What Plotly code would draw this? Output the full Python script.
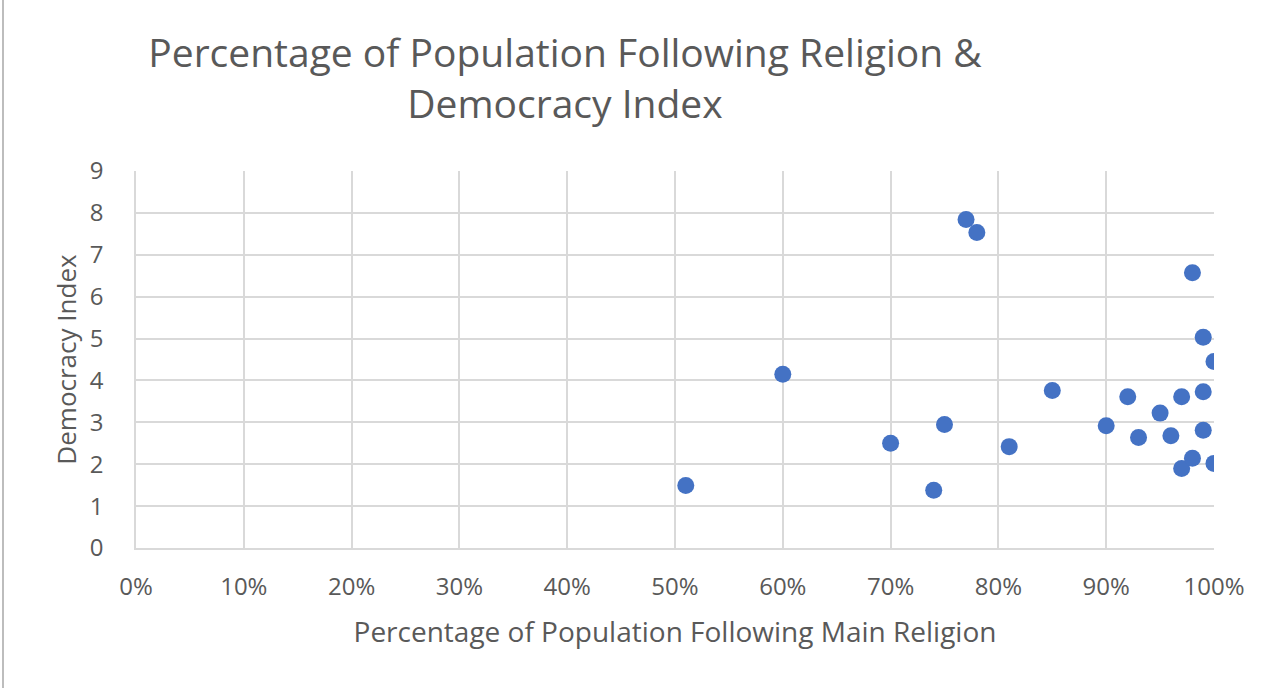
import plotly.graph_objects as go

# Share of population following the main religion (%) and democracy index
religion_pct = [51, 60, 70, 75, 74, 77, 78, 81, 85, 90, 92, 93, 95, 96, 97, 97, 98, 98, 99, 99, 99, 100, 100]
democracy_idx = [1.49, 4.15, 2.50, 2.95, 1.38, 7.84, 7.53, 2.42, 3.76, 2.92, 3.61, 2.64, 3.22, 2.68,
                 3.61, 1.90, 2.14, 6.57, 5.03, 3.73, 2.81, 4.45, 2.02]

x_ticks = list(range(0, 101, 10))
x_tick_text = [f"{v}%" for v in x_ticks]
y_ticks = list(range(0, 10))

FONT = "Open Sans"
TEXT = "#595959"
GRID = "#d9d9d9"

fig = go.Figure(
    go.Scatter(
        x=religion_pct,
        y=democracy_idx,
        mode="markers",
        marker=dict(color="#4472C4", size=17, line=dict(width=0)),
        showlegend=False,
    )
)

fig.update_layout(
    width=1280,
    height=688,
    margin=dict(l=136, r=66, t=171, b=140),
    paper_bgcolor="white",
    plot_bgcolor="white",
    font=dict(family=FONT, color=TEXT),
    title=dict(
        text="Percentage of Population Following Religion &<br>Democracy Index",
        x=565 / 1280,
        xanchor="center",
        y=1 - 67 / 688,
        yanchor="middle",
        font=dict(family=FONT, size=39, color=TEXT),
    ),
    xaxis=dict(
        range=[0, 100],
        tickvals=x_ticks,
        ticktext=x_tick_text,
        showgrid=True,
        gridcolor=GRID,
        gridwidth=1.5,
        zeroline=False,
        showline=True,
        linecolor=GRID,
        linewidth=1.5,
        ticks="",
        tickfont=dict(size=24, color=TEXT),
        ticklabelstandoff=16,
        title=dict(text="Percentage of Population Following Main Religion",
                   font=dict(size=28, color=TEXT), standoff=22),
    ),
    yaxis=dict(
        range=[0, 9],
        tickvals=y_ticks,
        showgrid=True,
        gridcolor=GRID,
        gridwidth=1.5,
        zeroline=False,
        showline=True,
        linecolor=GRID,
        linewidth=1.5,
        ticks="",
        tickfont=dict(size=24, color=TEXT),
        ticklabelstandoff=26,
        title=dict(text="Democracy Index", font=dict(size=26, color=TEXT), standoff=6),
    ),
)

# frame edge along the left side of the chart area
edge_x = (3 - 136) / 1078
fig.add_shape(type="line", xref="paper", yref="paper",
              x0=edge_x, x1=edge_x, y0=-140 / 377, y1=(688 - 140) / 377,
              line=dict(color="#bdbdbd", width=2))

fig.write_html("out.html")
